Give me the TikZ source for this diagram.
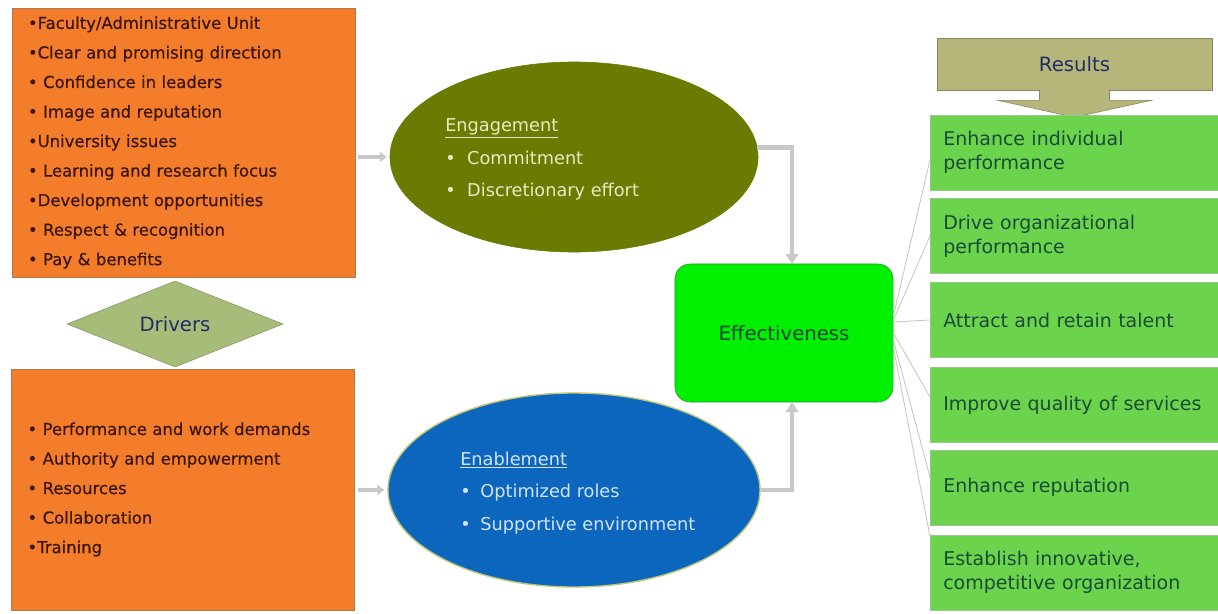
\documentclass[tikz,border=0pt]{standalone}
\usepackage{fontspec}
\setmainfont{DejaVu Sans}
\newfontfamily\drvfont[FakeBold=0.6]{DejaVu Sans}
\usetikzlibrary{shapes.geometric,arrows.meta}

\definecolor{drvorange}{RGB}{243,125,42}
\definecolor{drvborder}{RGB}{175,120,70}
\definecolor{drvtext}{RGB}{60,22,10}
\definecolor{engolive}{RGB}{107,122,0}
\definecolor{engtext}{RGB}{232,234,195}
\definecolor{enablue}{RGB}{12,102,190}
\definecolor{enaborder}{RGB}{190,200,120}
\definecolor{enatext}{RGB}{210,228,248}
\definecolor{effgreen}{RGB}{0,240,0}
\definecolor{effborder}{RGB}{45,150,45}
\definecolor{efftext}{RGB}{10,70,55}
\definecolor{resgreen}{RGB}{108,212,76}
\definecolor{resborder}{RGB}{150,200,140}
\definecolor{restext}{RGB}{25,75,55}
\definecolor{reskhaki}{RGB}{182,182,122}
\definecolor{navytext}{RGB}{35,45,100}
\definecolor{sage}{RGB}{168,188,122}
\definecolor{conngray}{RGB}{200,200,200}

\begin{document}
\begin{tikzpicture}[x=0.025cm,y=-0.025cm,
	drvbox/.style={draw=drvborder, fill=drvorange, rectangle, minimum width=8.575cm, text width=7.775cm, inner xsep=0.4cm, align=left, text=drvtext, font=\drvfont\fontsize{11.7}{21}\selectfont},
	resbox/.style={draw=resborder, fill=resgreen, rectangle, anchor=west, minimum width=7.15cm, minimum height=1.875cm, text width=6.6cm, inner xsep=0.325cm, align=left, text=restext, font=\fontsize{13.5}{17}\selectfont},
	conn/.style={conngray, line width=3pt, -{Triangle[width=9pt,length=7pt]}},
	feed/.style={conngray, line width=2.5pt, -{Triangle[width=7pt,length=5pt]}, shorten <=2pt, shorten >=2pt},
	fan/.style={gray!45, line width=0.6pt}]
				\useasboundingbox[fill=white] (0,0) rectangle (1218,613);
				% drivers
				\node[drvbox, minimum height=6.725cm] (drvtop) at (183.5,142.5) {•Faculty/Administrative Unit\\•Clear and promising direction\\• Confidence in leaders\\• Image and reputation\\•University issues\\• Learning and research focus\\•Development opportunities\\• Respect \& recognition\\• Pay \& benefits};
				\node[diamond, draw=sage!80!black, fill=sage, minimum width=5.4cm, minimum height=2.05cm, inner sep=0pt, text=navytext, font=\fontsize{14}{16}\selectfont] (drivers) at (175,324) {Drivers};
				\node[drvbox, minimum height=6.025cm] (drvbot) at (183,489.5) {• Performance and work demands\\• Authority and empowerment\\• Resources\\• Collaboration\\•Training};
				% engagement and enablement
				\node[ellipse, fill=engolive, draw=engolive, minimum width=9.2cm, minimum height=4.75cm] (eng) at (574,157) {};
				\node[anchor=west, inner sep=0pt, align=left, text=engtext, font=\fontsize{12.6}{23}\selectfont] (engtxt) at (445,159.5) {\underline{Engagement}\\•\hspace{0.65em}Commitment\\•\hspace{0.65em}Discretionary effort};
				\node[ellipse, fill=enablue, draw=enaborder, line width=1pt, minimum width=9.3cm, minimum height=4.85cm] (ena) at (574,490) {};
				\node[anchor=west, inner sep=0pt, align=left, text=enatext, font=\fontsize{12.6}{23}\selectfont] (enatxt) at (460,493) {\underline{Enablement}\\•\hspace{0.55em}Optimized roles\\•\hspace{0.55em}Supportive environment};
				\node[rectangle, rounded corners=0.375cm, draw=effborder, fill=effgreen, minimum width=5.45cm, minimum height=3.45cm, text=efftext, font=\fontsize{14}{16}\selectfont] (eff) at (784,333) {Effectiveness};
				% results
				\node[rectangle, draw=reskhaki!75!black, fill=reskhaki, minimum width=6.875cm, minimum height=1.3cm, text=navytext, font=\fontsize{14}{16}\selectfont] (res) at (1074.5,64) {Results};
				\filldraw[draw=reskhaki!75!black, fill=reskhaki] (res.south) ++(-35,-1) -- ++(0,11) -- ++(-42,0) -- ++(77,17) -- ++(77,-17) -- ++(-42,0) -- ++(0,-11);
				\node[resbox] (r1) at (930,152.5) {Enhance individual\\performance};
				\node[resbox] (r2) at (930,236) {Drive organizational\\performance};
				\node[resbox] (r3) at (930,320) {Attract and retain talent};
				\node[resbox] (r4) at (930,405) {Improve quality of services};
				\node[resbox] (r5) at (930,487.5) {Enhance reputation};
				\node[resbox] (r6) at (930,572.5) {Establish innovative,\\competitive organization};
				% connectors
				\draw[feed] (drvtop.east |- eng.west) -- (eng.west);
				\draw[feed] (drvbot.east |- ena.west) -- (ena.west);
				\draw[conn] (eng.3) -| ([xshift=5.7pt]eff.north);
				\draw[conn] (ena.east) -| ([xshift=5.7pt]eff.south);
				\draw[fan] ([yshift=12pt]eff.east) -- ([yshift=-5.3pt]r1.west);
				\draw[fan] ([yshift=9pt]eff.east) -- (r2.west);
				\draw[fan] ([yshift=7.8pt]eff.east) -- (r3.west);
				\draw[fan] (eff.east) -- ([yshift=5.7pt]r4.west);
				\draw[fan] ([yshift=-5pt]eff.east) -- ([yshift=7.4pt]r5.west);
				\draw[fan] ([yshift=-10pt]eff.east) -- ([yshift=-1.4pt]r6.north west);
			\end{tikzpicture}
\end{document}
